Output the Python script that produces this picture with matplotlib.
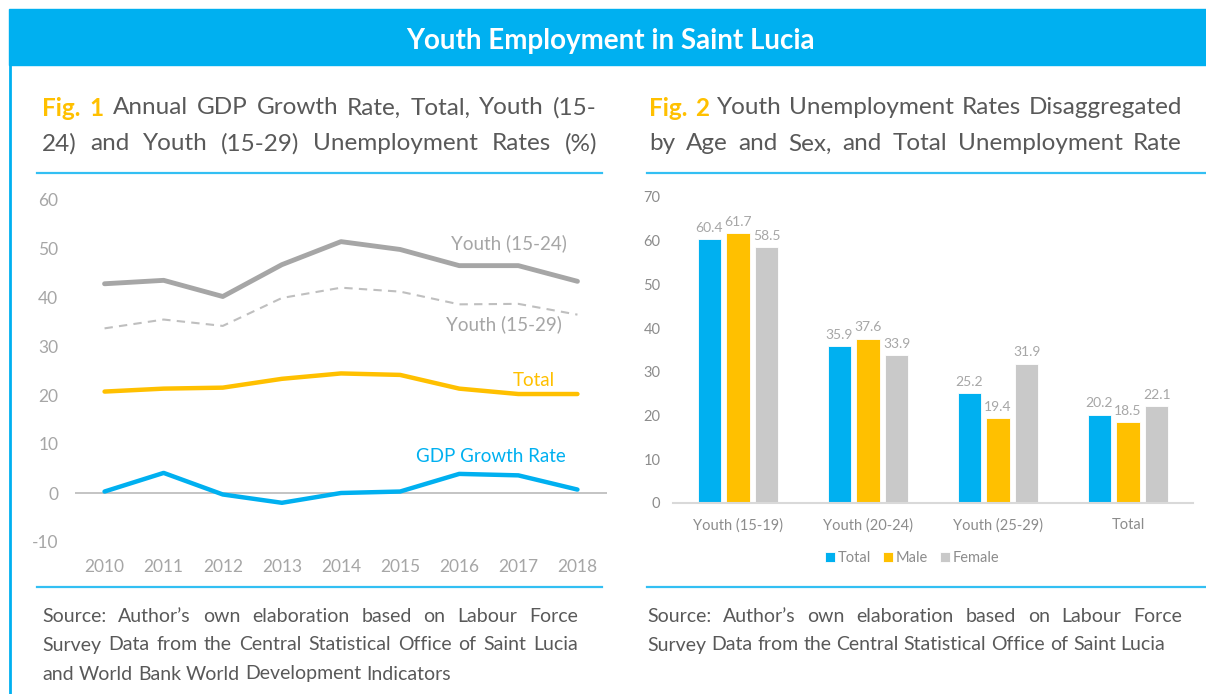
import matplotlib
matplotlib.use('Agg')
import matplotlib.pyplot as plt
from matplotlib.patches import Rectangle
from matplotlib.lines import Line2D
import numpy as np

plt.rcParams['font.family'] = ['Lato', 'DejaVu Sans']
plt.rcParams['axes.unicode_minus'] = False

# Dane - wykres 1
years = [2010, 2011, 2012, 2013, 2014, 2015, 2016, 2017, 2018]
youth_15_24 = [42.7, 43.4, 40.1, 46.6, 51.3, 49.7, 46.4, 46.4, 43.2]
youth_15_29 = [33.6, 35.4, 34.1, 39.8, 41.9, 41.1, 38.5, 38.6, 36.4]
total_rate = [20.7, 21.3, 21.5, 23.3, 24.4, 24.1, 21.3, 20.2, 20.2]
gdp_growth = [0.3, 4.1, -0.3, -2.0, 0.0, 0.3, 3.9, 3.6, 0.7]

# Dane - wykres 2
groups = ['Youth (15-19)', 'Youth (20-24)', 'Youth (25-29)', 'Total']
bar_total = [60.4, 35.9, 25.2, 20.2]
bar_male = [61.7, 37.6, 19.4, 18.5]
bar_female = [58.5, 33.9, 31.9, 22.1]

BLUE = '#00B0F0'
GOLD = '#FFC000'
GREY_BAR = '#C9C9C9'
TEXT = '#595959'
TICK = '#A6A6A6'

W, H = 1206, 694
fig = plt.figure(figsize=(W / 100, H / 100), dpi=100)
fig.patch.set_facecolor('white')


def fx(px):
    return px / W


def fy(py):
    return 1 - py / H


# Nagłówek
fig.patches.append(Rectangle((fx(9), fy(65)), fx(W) - fx(9), fy(9) - fy(65),
                             transform=fig.transFigure, color=BLUE, zorder=0))
fig.lines.append(Line2D([fx(10), fx(10)], [fy(65), 0], transform=fig.transFigure,
                        color=BLUE, lw=2))
fig.text(fx(610), fy(41), 'Youth Employment in Saint Lucia', color='white',
         fontsize=20, fontweight='bold', ha='center', va='center')

# Linie oddzielające
for y in (173, 587):
    fig.lines.append(Line2D([fx(37), fx(602)], [fy(y), fy(y)], transform=fig.transFigure,
                            color=BLUE, lw=1.6, alpha=0.8))
    fig.lines.append(Line2D([fx(647), fx(W)], [fy(y), fy(y)], transform=fig.transFigure,
                            color=BLUE, lw=1.6, alpha=0.8))

renderer = fig.canvas.get_renderer()


def justified(parts, x0, x1, y, size, justify=True):
    # parts: lista (tekst, kolor, grubość)
    words = []
    for txt, col, wt in parts:
        for w in txt.split():
            words.append((w, col, wt))
    texts = [fig.text(0, fy(y), w, color=c, fontweight=wt, fontsize=size,
                      ha='left', va='center') for w, c, wt in words]
    widths = [t.get_window_extent(renderer).width for t in texts]
    sp = fig.text(0, 0, 'a a', fontsize=size)
    sp2 = fig.text(0, 0, 'aa', fontsize=size)
    space = sp.get_window_extent(renderer).width - sp2.get_window_extent(renderer).width
    sp.remove()
    sp2.remove()
    gap = space
    if justify and len(texts) > 1:
        gap = max(space * 0.8, (x1 - x0 - sum(widths)) / (len(texts) - 1))
    x = x0
    for t, w in zip(texts, widths):
        t.set_x(fx(x))
        x += w + gap


# Tytuły wykresów
HS = 17.5
justified([('Fig. 1', GOLD, 'bold'), ('Annual GDP Growth Rate, Total, Youth (15-', TEXT, 'normal')],
          42, 597, 108, HS)
justified([('24) and Youth (15-29) Unemployment Rates (%)', TEXT, 'normal')], 42, 597, 144, HS)
justified([('Fig. 2', GOLD, 'bold'), ('Youth Unemployment Rates Disaggregated', TEXT, 'normal')],
          649, 1182, 108, HS)
justified([('by Age and Sex, and Total Unemployment Rate', TEXT, 'normal')], 649, 1182, 144, HS)

# Źródła
SS = 14
justified([("Source: Author’s own elaboration based on Labour Force", TEXT, 'normal')], 42, 578, 616, SS)
justified([('Survey Data from the Central Statistical Office of Saint Lucia', TEXT, 'normal')], 42, 578, 645, SS)
justified([('and World Bank World Development Indicators', TEXT, 'normal')], 42, 578, 674, SS, justify=False)
justified([("Source: Author’s own elaboration based on Labour Force", TEXT, 'normal')], 647, 1182, 616, SS)
justified([('Survey Data from the Central Statistical Office of Saint Lucia', TEXT, 'normal')], 647, 1182, 645, SS, justify=False)

# Wykres 1 - linie
ax1 = fig.add_axes([fx(75), fy(542), fx(607) - fx(75), fy(199) - fy(542)])
ax1.axhline(0, color='#BFBFBF', lw=1.3, zorder=1)
ax1.plot(years, youth_15_24, color='#A6A6A6', lw=3.5, solid_capstyle='round', zorder=3)
ax1.plot(years, youth_15_29, color='#BFBFBF', lw=1.5, ls=(0, (4, 3)), zorder=3)
ax1.plot(years, total_rate, color=GOLD, lw=3.2, solid_capstyle='round', zorder=3)
ax1.plot(years, gdp_growth, color=BLUE, lw=3.2, solid_capstyle='round', zorder=3)
ax1.set_xlim(2009.5, 2018.5)
ax1.set_ylim(-10, 60)
ax1.set_xticks(years)
ax1.set_yticks(np.arange(-10, 61, 10))
for s in ax1.spines.values():
    s.set_visible(False)
ax1.tick_params(axis='both', length=0, labelcolor=TICK, labelsize=12.5)
ax1.tick_params(axis='y', pad=12)
ax1.tick_params(axis='x', pad=12)
ax1.text(2016.84, 51.0, 'Youth (15-24)', color='#A6A6A6', fontsize=13.5, ha='center', va='center')
ax1.text(2016.76, 34.5, 'Youth (15-29)', color='#A6A6A6', fontsize=13.5, ha='center', va='center')
ax1.text(2017.27, 22.9, 'Total', color=GOLD, fontsize=13.5, ha='center', va='center')
ax1.text(2016.54, 7.5, 'GDP Growth Rate', color=BLUE, fontsize=13.5, ha='center', va='center')

# Wykres 2 - słupki
ax2 = fig.add_axes([fx(673), fy(503), fx(1193) - fx(673), fy(197) - fy(503)])
x = np.arange(len(groups))
bw = 0.177
off = 0.223
series = [(bar_total, BLUE, 'Total'), (bar_male, GOLD, 'Male'), (bar_female, GREY_BAR, 'Female')]
for i, (vals, col, lab) in enumerate(series):
    bars = ax2.bar(x + (i - 1) * off, vals, width=bw, color=col, edgecolor='white',
                   linewidth=0.6, label=lab)
    for b, v in zip(bars, vals):
        ax2.text(b.get_x() + b.get_width() / 2, v + 1.2, f'{v:.1f}', ha='center',
                 va='bottom', fontsize=10, color='#A6A6A6')
ax2.set_xlim(-0.5, 3.5)
ax2.set_ylim(0, 70)
ax2.set_xticks(x)
ax2.set_xticklabels(groups)
ax2.set_yticks(np.arange(0, 71, 10))
for k, s in ax2.spines.items():
    s.set_visible(k == 'bottom')
ax2.spines['bottom'].set_color('#D9D9D9')
ax2.spines['bottom'].set_linewidth(1.5)
ax2.tick_params(axis='both', length=0, labelcolor='#8C8C8C', labelsize=10.5)
ax2.tick_params(axis='y', pad=9)
ax2.tick_params(axis='x', pad=11)
leg = ax2.legend(loc='center', bbox_to_anchor=(0.46, -0.18), ncol=3, frameon=False,
                 handlelength=0.7, handleheight=0.7, handletextpad=0.2, columnspacing=0.8,
                 fontsize=10.5, labelcolor='#8C8C8C')

plt.savefig('out.png', dpi=100)
